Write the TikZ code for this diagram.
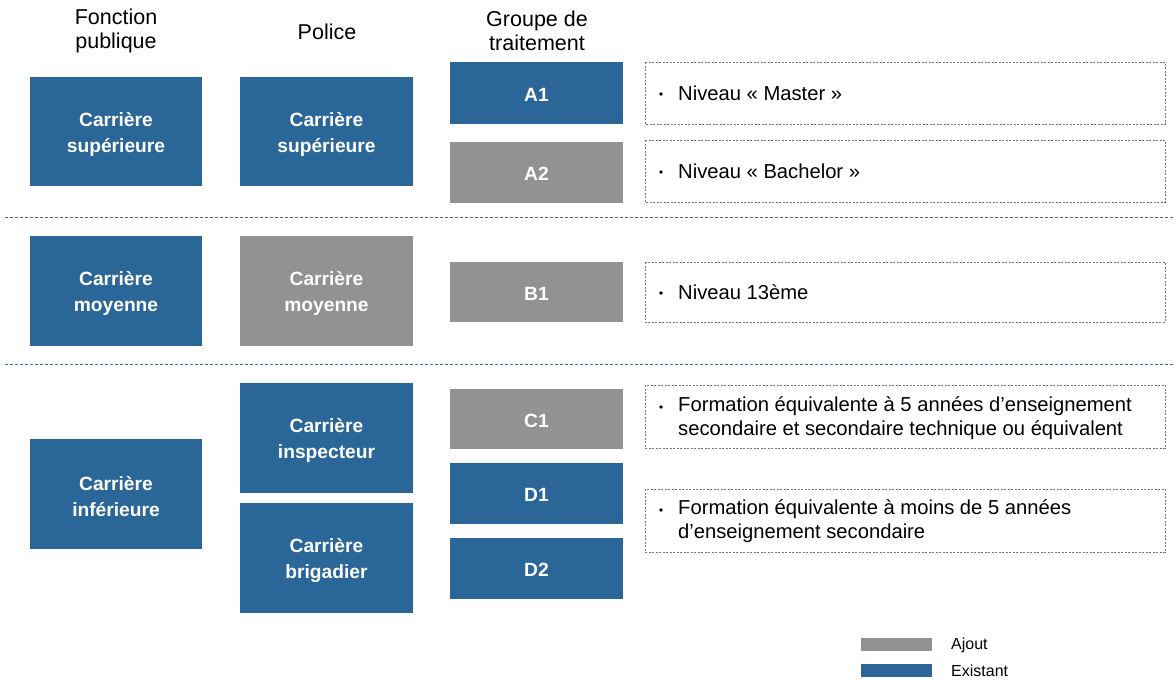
\documentclass[tikz,border=0pt]{standalone}
\usepackage{fontspec}
\setmainfont{Liberation Sans}
\definecolor{cblue}{RGB}{42,102,151}
\definecolor{cgrey}{RGB}{146,146,146}
\definecolor{cline}{RGB}{60,110,160}
\begin{document}
\begin{tikzpicture}[x=1pt,y=-1pt,
  box/.style={draw=none,inner sep=0pt,text=white,align=center,
    font=\fontsize{19.2}{26}\selectfont\bfseries},
  existbox/.style={box,fill=cblue},
  addbox/.style={box,fill=cgrey},
  descbox/.style={draw=black!55,dash pattern=on 2pt off 1.5pt,line width=0.6pt},
  desc/.style={anchor=west,align=left,inner sep=0pt,font=\fontsize{20.2}{23.5}\selectfont},
  bul/.style={circle,fill=black,inner sep=0pt,minimum size=3.6pt},
  head/.style={align=center,inner sep=0pt,font=\fontsize{21.5}{23.5}\selectfont},
  sep/.style={draw=cline,line width=0.9pt,dash pattern=on 3pt off 2pt},
  leg/.style={anchor=west,inner sep=0pt,font=\fontsize{16}{18}\selectfont}]
\useasboundingbox (0,0) rectangle (1175,680);
% headers
\node[head] (h1) at (116,31) {Fonction\\publique};
\node[head] (h2) at (327,32) {Police};
\node[head] (h3) at (537,31) {Groupe de\\traitement};
% column 1
\path[existbox] (30,77) rectangle (202,186) coordinate[pos=0.5] (c1a);
\node[box] (fp1) at ([yshift=-2.5pt]c1a) {Carrière\\supérieure};
\path[existbox] (30,236) rectangle (202,346) coordinate[pos=0.5] (c1b);
\node[box] (fp2) at ([yshift=-2.5pt]c1b) {Carrière\\moyenne};
\path[existbox] (30,439) rectangle (202,549) coordinate[pos=0.5] (c1c);
\node[box] (fp3) at ([yshift=-2.5pt]c1c) {Carrière\\inférieure};
% column 2
\path[existbox] (240,77) rectangle (413,186) coordinate[pos=0.5] (c2a);
\node[box] (po1) at ([yshift=-2.5pt]c2a) {Carrière\\supérieure};
\path[addbox] (240,236) rectangle (413,346) coordinate[pos=0.5] (c2b);
\node[box] (po2) at ([yshift=-2.5pt]c2b) {Carrière\\moyenne};
\path[existbox] (240,383) rectangle (413,493) coordinate[pos=0.5] (c2c);
\node[box] (po3) at ([yshift=-2.5pt]c2c) {Carrière\\inspecteur};
\path[existbox] (240,503) rectangle (413,613) coordinate[pos=0.5] (c2d);
\node[box] (po4) at ([yshift=-2.5pt]c2d) {Carrière\\brigadier};
% column 3
\path[existbox] (450,62) rectangle (623,124) coordinate[pos=0.5] (g1);
\node[box] (A1) at ([yshift=-1.5pt]g1) {A1};
\path[addbox] (450,142) rectangle (623,203) coordinate[pos=0.5] (g2);
\node[box] (A2) at ([yshift=-1.5pt]g2) {A2};
\path[addbox] (450,262) rectangle (623,322) coordinate[pos=0.5] (g3);
\node[box] (B1) at ([yshift=-1.5pt]g3) {B1};
\path[addbox] (450,389) rectangle (623,449) coordinate[pos=0.5] (g4);
\node[box] (C1) at ([yshift=-1.5pt]g4) {C1};
\path[existbox] (450,463) rectangle (623,524) coordinate[pos=0.5] (g5);
\node[box] (D1) at ([yshift=-1.5pt]g5) {D1};
\path[existbox] (450,538) rectangle (623,599) coordinate[pos=0.5] (g6);
\node[box] (D2) at ([yshift=-1.5pt]g6) {D2};
% description boxes
\draw[descbox] (645,62) rectangle (1165,124);
\node[bul] (d1b) at (661,94) {};
\node[desc] (d1) at (678,93) {Niveau « Master »};
\draw[descbox] (645,140) rectangle (1165,202);
\node[bul] (d2b) at (661,172) {};
\node[desc] (d2) at (678,171) {Niveau « Bachelor »};
\draw[descbox] (645,262) rectangle (1165,322);
\node[bul] (d3b) at (661,293) {};
\node[desc] (d3) at (678,292) {Niveau 13ème};
\draw[descbox] (645,385) rectangle (1165,448);
\node[bul] (d4b) at (661,407) {};
\node[desc] (d4) at (678,418) {Formation équivalente à 5 années d’enseignement\\secondaire et secondaire technique ou équivalent};
\draw[descbox] (645,489) rectangle (1165,552);
\node[bul] (d5b) at (661,510) {};
\node[desc] (d5) at (678,521) {Formation équivalente à moins de 5 années\\d’enseignement secondaire};
% separators
\draw[sep] (5,217) -- (1175,217);
\draw[sep] (5,364) -- (1175,364);
% legend
\fill[cgrey] (861,638) rectangle (932,651);
\node[leg] (l1) at (951,645) {Ajout};
\fill[cblue] (861,664) rectangle (932,677);
\node[leg] (l2) at (951,671) {Existant};
\end{tikzpicture}
\end{document}
